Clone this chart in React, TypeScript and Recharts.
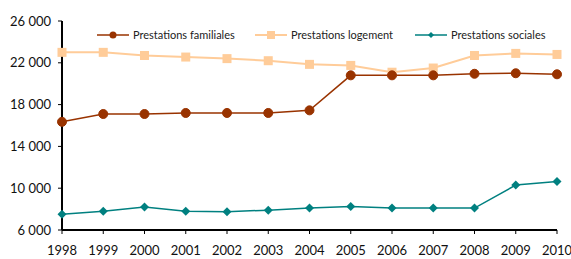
import React from "react";
import { LineChart, Line, XAxis, YAxis } from "recharts";

const years = ["1998","1999","2000","2001","2002","2003","2004","2005","2006","2007","2008","2009","2010"];
const familiales = [16350, 17100, 17100, 17200, 17200, 17200, 17450, 20800, 20800, 20800, 20950, 21000, 20900];
const logement = [23000, 23000, 22700, 22550, 22400, 22200, 21850, 21750, 21100, 21500, 22700, 22900, 22800];
const sociales = [7500, 7800, 8200, 7800, 7750, 7900, 8100, 8250, 8100, 8100, 8100, 10300, 10650];
const yTicks = [6000, 10000, 14000, 18000, 22000, 26000];

const seriesNames = ["Prestations familiales", "Prestations logement", "Prestations sociales"];
const colors = ["#993300", "#FFCC99", "#008080"];

const data = years.map((y, i) => ({
  year: y,
  fam: familiales[i],
  log: logement[i],
  soc: sociales[i],
}));

const FONT = "Lato, 'Open Sans', sans-serif";

const fmt = (v: number) => {
  const s = String(v);
  return s.length > 3 ? s.slice(0, s.length - 3) + " " + s.slice(s.length - 3) : s;
};

const Circle = (props: any) => {
  const { cx, cy } = props;
  if (cx == null || cy == null) return null;
  return <circle cx={cx} cy={cy} r={4.5} fill={colors[0]} stroke={colors[0]} />;
};
const Square = (props: any) => {
  const { cx, cy } = props;
  if (cx == null || cy == null) return null;
  return <rect x={cx - 4.5} y={cy - 4.5} width={9} height={9} fill={colors[1]} />;
};
const Diamond = (props: any) => {
  const { cx, cy } = props;
  if (cx == null || cy == null) return null;
  const r = 4.5;
  return <polygon points={`${cx},${cy - r} ${cx + r},${cy} ${cx},${cy + r} ${cx - r},${cy}`} fill={colors[2]} />;
};

const legendIcon = (i: number) => {
  const cx = 16, cy = 6;
  return (
    <svg width={32} height={12} style={{ display: "block" }}>
      <line x1={0} y1={cy} x2={32} y2={cy} stroke={colors[i]} strokeWidth={i === 1 ? 2 : 1.5} />
      {i === 0 && <circle cx={cx} cy={cy} r={3.5} fill={colors[0]} />}
      {i === 1 && <rect x={cx - 4} y={cy - 4} width={8} height={8} fill={colors[1]} />}
      {i === 2 && <polygon points={`${cx},${cy - 3} ${cx + 3},${cy} ${cx},${cy + 3} ${cx - 3},${cy}`} fill={colors[2]} />}
    </svg>
  );
};

const legendLefts = [97, 255, 415];

const CustomLegend = () => (
  <div style={{ position: "absolute", left: 0, top: 28, width: 571, height: 14 }}>
    {seriesNames.map((n, i) => (
      <div key={n} style={{ position: "absolute", left: legendLefts[i], top: 0, display: "flex", alignItems: "center", fontFamily: FONT, fontSize: 11, color: "#222", whiteSpace: "nowrap" }}>
        {legendIcon(i)}
        <span style={{ marginLeft: 4 }}>{n}</span>
      </div>
    ))}
  </div>
);

export default function App() {
  return (
    <div style={{ position: "absolute", left: 0, top: 0, width: 571, height: 259, background: "#fff" }}>
      <LineChart width={571} height={259} data={data} margin={{ top: 21, right: 14, bottom: 0, left: 0 }}>
        <XAxis
          dataKey="year"
          axisLine={{ stroke: "#000", strokeWidth: 2 }}
          tickLine={{ stroke: "#000", strokeWidth: 1 }}
          tickSize={4}
          tickMargin={12}
          height={29}
          interval={0}
          tick={{ fill: "#111", fontSize: 13, fontFamily: FONT }}
        />
        <YAxis
          domain={[6000, 26000]}
          ticks={yTicks}
          tickFormatter={fmt}
          axisLine={{ stroke: "#000", strokeWidth: 2 }}
          tickLine={{ stroke: "#000", strokeWidth: 1 }}
          tickSize={4}
          tickMargin={7}
          width={62}
          interval={0}
          tick={{ fill: "#111", fontSize: 13, fontFamily: FONT }}
        />
        <Line dataKey="log" name={seriesNames[1]} stroke={colors[1]} strokeWidth={2} dot={<Square />} isAnimationActive={false} />
        <Line dataKey="fam" name={seriesNames[0]} stroke={colors[0]} strokeWidth={1.5} dot={<Circle />} isAnimationActive={false} />
        <Line dataKey="soc" name={seriesNames[2]} stroke={colors[2]} strokeWidth={1.5} dot={<Diamond />} isAnimationActive={false} />
      </LineChart>
      <CustomLegend />
    </div>
  );
}
